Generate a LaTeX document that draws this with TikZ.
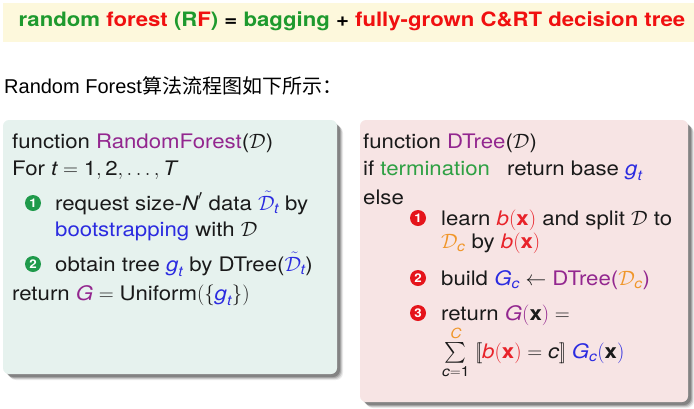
\documentclass[tikz,border=0pt]{standalone}
\usepackage{amsmath}
\usepackage{fontspec}
\setmainfont{TeX Gyre Heros}[FakeStretch=1.11]
\newfontfamily\bannerf{TeX Gyre Heros}[FakeStretch=1.12]
\newfontfamily\arialf{Liberation Sans}
\newfontfamily\cjk{Noto Sans CJK SC}
\definecolor{rfgreen}{HTML}{1E9A2E}
\definecolor{rfred}{HTML}{F01010}
\definecolor{bannerbg}{HTML}{FDF8DC}
\definecolor{lbox}{HTML}{E6F2EE}
\definecolor{rbox}{HTML}{F7E4E4}
\definecolor{mpurple}{HTML}{93278F}
\definecolor{mblue}{HTML}{2B2BE0}
\definecolor{mgreen}{HTML}{2EA043}
\definecolor{morange}{HTML}{F0962A}
\definecolor{mred}{HTML}{E8232A}
\definecolor{bgreen}{HTML}{1F9A4B}
\definecolor{bred}{HTML}{E5141B}
\definecolor{ink}{HTML}{1A1A1A}
\newcommand\mi[1]{\text{\itshape #1}}
\newcommand\tx[1]{\text{#1}}
\newcommand\bx{\text{\bfseries x}}
\newcommand\bxx{\color{mred}\mi{b}(\bx)}
\begin{document}
\begin{tikzpicture}[x=1pt,y=-1pt,
  txt/.style={anchor=base west,inner sep=0pt,text=ink,font=\fontsize{20}{24}\selectfont},
  gbul/.style={circle,fill=bgreen,text=white,inner sep=0pt,minimum size=16pt,font=\bfseries\fontsize{12}{12}\selectfont},
  rbul/.style={circle,fill=bred,text=white,inner sep=0pt,minimum size=16pt,font=\bfseries\fontsize{12}{12}\selectfont},
  shad/.style={fill=black,rounded corners=7pt}]
\useasboundingbox (0,0) rectangle (694,408);
% banner
\fill[bannerbg] (3,3) rectangle (694,42);
\node[anchor=base,inner sep=0pt,font=\bannerf\bfseries\fontsize{19.8}{22}\selectfont] (banner) at (352,26)
 {\textcolor{rfgreen}{random} \textcolor{rfred}{forest} \textcolor{rfgreen}{(}\textcolor{rfgreen}{R}\textcolor{rfred}{F}\textcolor{rfgreen}{)} = \textcolor{rfgreen}{bagging} + \textcolor{rfred}{fully-grown C\&RT decision tree}};
% caption line
\node[anchor=base west,inner sep=0pt,font=\arialf\fontsize{20}{24}\selectfont] (cap) at (4,93)
 {Random Forest{\cjk 算法流程图如下所示：}};
% shadows
\foreach \o/\a in {6/0.08,5/0.13,4/0.18,3/0.22}{
  \fill[shad,opacity=\a] (3+\o,120+\o) rectangle (337+\o,374+\o);
  \fill[shad,opacity=\a] (360+\o,120+\o) rectangle (688+\o,402+\o);
}
\fill[lbox,rounded corners=6pt] (3,120) rectangle (337,374);
\fill[rbox,rounded corners=6pt] (360,120) rectangle (688,402);
% left box
\node[txt] (l1) at (12,148) {function \textcolor{mpurple}{RandomForest}($\mathcal{D}$)};
\node[txt] (l2) at (12,175) {For $\mi{t} = \tx{1}, \tx{2}, \ldots, \mi{T}$};
\node[gbul] (lb1) at (33,203) {1};
\node[txt] (l3) at (55,210) {request size-$\mi{N}'$ data ${\color{mblue}\tilde{\mathcal{D}}_{\mi{t}}}$ by};
\node[txt] (l4) at (55,236) {\textcolor{mblue}{bootstrapping} with $\mathcal{D}$};
\node[gbul] (lb2) at (33,264) {2};
\node[txt] (l5) at (55,271) {obtain tree ${\color{mblue}\mi{g}_{\mi{t}}}$ by DTree(${\color{mblue}\tilde{\mathcal{D}}_{\mi{t}}}$)};
\node[txt] (l6) at (12,300) {return ${\color{mpurple}\mi{G}} = \tx{Uniform}(\{{\color{mblue}\mi{g}_{\mi{t}}}\})$};
% right box
\node[txt] (r1) at (363,148) {function \textcolor{mpurple}{DTree}($\mathcal{D}$)};
\node[txt] (r2) at (363,175) {if \textcolor{mgreen}{termination}};
\node[txt] (r2b) at (507,175) {return base ${\color{mblue}\mi{g}_{\mi{t}}}$};
\node[txt] (r3) at (363,204) {else};
\node[rbul] (rb1) at (418,218) {1};
\node[txt] (r4) at (441,225) {learn ${\bxx}$ and split $\mathcal{D}$ to};
\node[txt] (r5) at (441,248) {${\color{morange}\mathcal{D}_{\mi{c}}}$ by ${\bxx}$};
\node[rbul] (rb2) at (418,278) {2};
\node[txt] (r6) at (441,285) {build ${\color{mblue}\mi{G}_{\mi{c}}} \leftarrow$ \textcolor{mpurple}{DTree(}${\color{morange}\mathcal{D}_{\mi{c}}}$\textcolor{mpurple}{)}};
\node[rbul] (rb3) at (418,313) {3};
\node[txt] (r7) at (441,320) {return ${\color{mpurple}\mi{G}(}\bx{\color{mpurple})} =$};
\node[txt] (r8) at (442,358) {$\sum\limits_{\mi{c}=\tx{1}}^{{\color{morange}\mi{C}}}\; [\![ {\bxx} = \mi{c} ]\!]\; {\color{mblue}\mi{G}_{\mi{c}}(}\bx{\color{mblue})}$};
\end{tikzpicture}
\end{document}
